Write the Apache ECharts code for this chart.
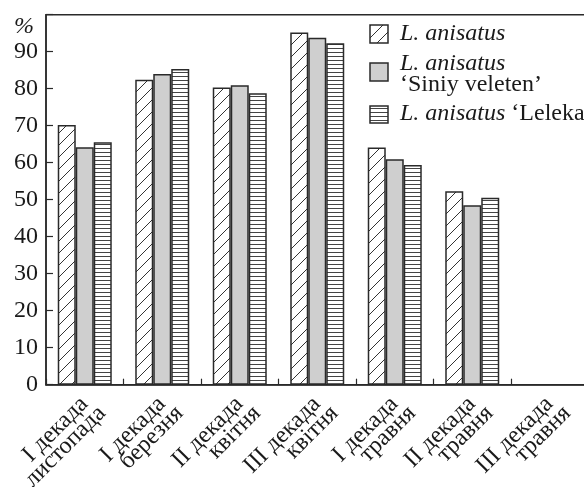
<!DOCTYPE html>
<html>
<head>
<meta charset="utf-8">
<script src="https://cdn.jsdelivr.net/npm/echarts@6/dist/echarts.min.js"></script>
<style>html,body{margin:0;padding:0;background:#fff}#c{width:584px;height:487px}</style>
</head>
<body>
<div id="c"></div>
<script>
var categories = ['I декада\nлистопада', 'I декада\nберезня', 'II декада\nквітня', 'III декада\nквітня', 'I декада\nтравня', 'II декада\nтравня', 'III декада\nтравня'];
var seriesNames = ['L. anisatus', 'L. anisatus ‘Siniy veleten’', 'L. anisatus ‘Leleka’'];
var valuesPlain = [70.2, 82.4, 80.3, 95.2, 64.1, 52.3, null];
var valuesSiniy = [64.2, 84.0, 80.9, 93.8, 60.9, 48.5, null];
var valuesLeleka = [65.5, 85.3, 78.8, 92.3, 59.4, 50.5, null];
var yTicks = [0, 10, 20, 30, 40, 50, 60, 70, 80, 90];

var FONT = '"Liberation Serif", "Times New Roman", serif';
var INK = '#2a2a2a';
var TXT = '#1a1a1a';

function diagPattern() {
  var c = document.createElement('canvas');
  c.width = 12; c.height = 12;
  var g = c.getContext('2d');
  g.fillStyle = '#fff'; g.fillRect(0, 0, 12, 12);
  g.strokeStyle = '#333'; g.lineWidth = 1;
  g.beginPath();
  g.moveTo(-1, 13); g.lineTo(13, -1);
  g.moveTo(-1, 1); g.lineTo(1, -1);
  g.moveTo(11, 13); g.lineTo(13, 11);
  g.stroke();
  return c;
}
function horizPattern() {
  var c = document.createElement('canvas');
  c.width = 4; c.height = 4;
  var g = c.getContext('2d');
  g.fillStyle = '#fff'; g.fillRect(0, 0, 4, 4);
  g.fillStyle = '#444'; g.fillRect(0, 0, 4, 1);
  return c;
}
var pDiag = {image: diagPattern(), repeat: 'repeat'};
var pHoriz = {image: horizPattern(), repeat: 'repeat'};
var GRAY = '#cfcfcf';
var fills = [pDiag, GRAY, pHoriz];
var dataSets = [valuesPlain, valuesSiniy, valuesLeleka];

var chart = echarts.init(document.getElementById('c'), null, {renderer: 'canvas'});

var legendX = 370, legendTextX = 400;
var ITAL = 'italic 24px ' + FONT;
var NORM = '24px ' + FONT;
var option = {
  animation: false,
  backgroundColor: '#fff',
  grid: {left: 46, top: 14.7, width: 542.5, height: 370, show: true, borderColor: INK, borderWidth: 1.5,
    containLabel: false, outerBoundsMode: 'none'},
  xAxis: {
    type: 'category',
    data: categories,
    axisLine: {lineStyle: {color: INK, width: 1.5}},
    axisTick: {show: true, inside: true, length: 6, lineStyle: {color: INK, width: 1.2}},
    axisLabel: {interval: 0, rotate: 45, fontFamily: FONT, fontSize: 24, color: TXT, lineHeight: 19,
      verticalAlign: 'top', margin: 2, padding: [0, 4, 0, 0],
      formatter: function (v) { return v.replace('\n', ' \n'); }}
  },
  yAxis: {
    type: 'value', min: 0, max: 100, interval: 10,
    axisLine: {show: true, lineStyle: {color: INK, width: 1.5}},
    axisTick: {show: true, inside: true, length: 7, lineStyle: {color: INK, width: 1.2}},
    splitLine: {show: false},
    axisLabel: {fontFamily: FONT, fontSize: 24, color: TXT, margin: 8,
      formatter: function (v) { return yTicks.indexOf(v) >= 0 ? String(v) : ''; }}
  },
  series: dataSets.map(function (d, i) {
    return {
      type: 'bar', name: seriesNames[i], data: d,
      barWidth: 18, barGap: '0%',
      itemStyle: {color: fills[i], borderColor: INK, borderWidth: 1.5}
    };
  }),
  graphic: [
    {type: 'text', x: 14, y: 39, style: {text: '%', font: ITAL, fill: TXT, verticalAlign: 'bottom'}},
    {type: 'rect', shape: {x: legendX, y: 25, width: 18, height: 18}, style: {fill: pDiag, stroke: INK, lineWidth: 1.5}},
    {type: 'rect', shape: {x: legendX, y: 63, width: 18, height: 18}, style: {fill: GRAY, stroke: INK, lineWidth: 1.5}},
    {type: 'rect', shape: {x: legendX, y: 106, width: 18, height: 17}, style: {fill: pHoriz, stroke: INK, lineWidth: 1.5}},
    {type: 'text', x: legendTextX, y: 46, style: {text: seriesNames[0], font: ITAL, fill: TXT, verticalAlign: 'bottom'}},
    {type: 'text', x: legendTextX, y: 76, style: {text: 'L. anisatus', font: ITAL, fill: TXT, verticalAlign: 'bottom'}},
    {type: 'text', x: legendTextX, y: 97, style: {text: '‘Siniy veleten’', font: NORM, fill: TXT, verticalAlign: 'bottom'}},
    {type: 'text', x: legendTextX, y: 126, style: {text: '{i|L. anisatus} ‘Leleka’', font: NORM, fill: TXT, verticalAlign: 'bottom',
      rich: {i: {fontStyle: 'italic', fontFamily: FONT, fontSize: 24}}}}
  ]
};
chart.setOption(option);
</script>
</body>
</html>
